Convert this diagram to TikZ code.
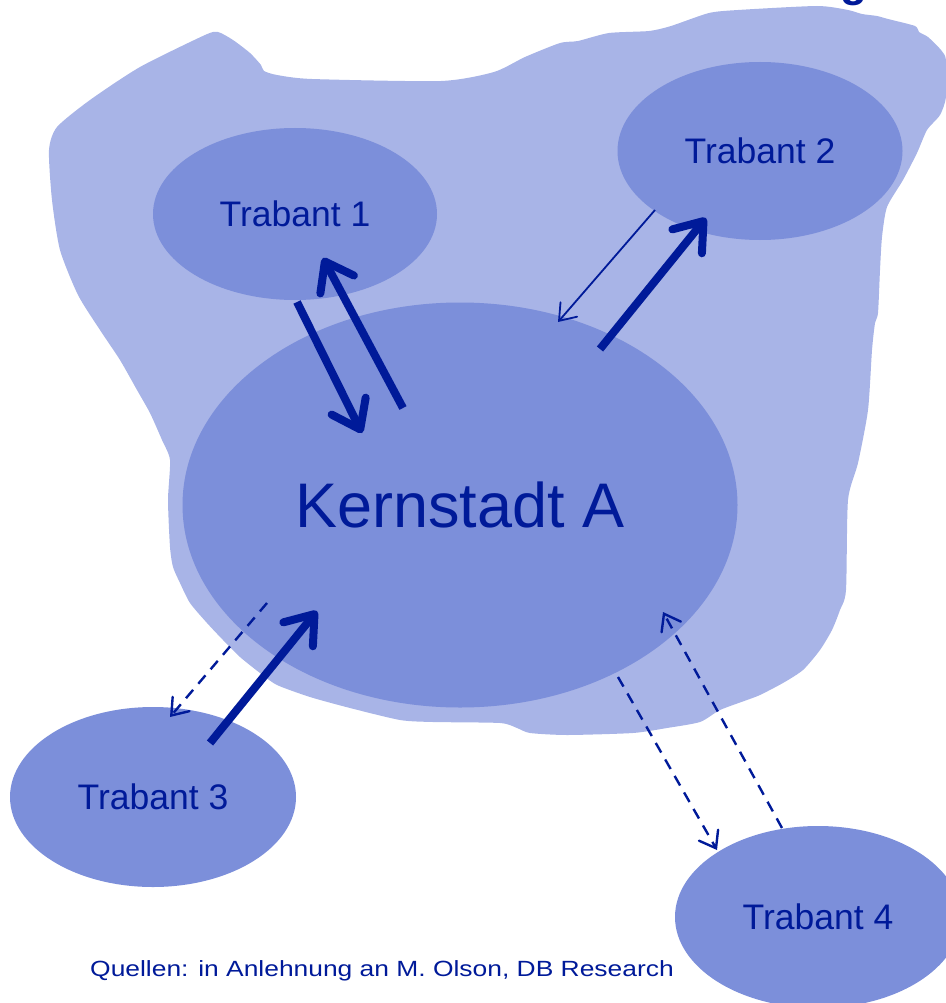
\documentclass[tikz,border=0pt]{standalone}
\usepackage{fontspec}
\usepackage{graphicx}
\setmainfont{Liberation Sans}
\usetikzlibrary{shapes.geometric,arrows.meta}
\definecolor{blobc}{RGB}{168,180,231}
\definecolor{ellc}{RGB}{124,143,218}
\definecolor{navy}{RGB}{0,26,153}
\tikzset{
  ell/.style={ellipse, fill=ellc, inner sep=0pt, text=navy},
  bigarrow/.style={draw=navy, line width=8pt, -{Straight Barb[length=26pt,width=38pt,line cap=round,line join=round]}},
  thinarrow/.style={draw=navy, line width=1.8pt, -{Straight Barb[length=15pt,width=22pt,line cap=round]}},
  dasharrow/.style={draw=navy, line width=2.4pt, dash pattern=on 11pt off 8pt, -{Straight Barb[length=15pt,width=22pt,line cap=round]}},
  trab/.style={font=\fontsize{35.5}{40}\selectfont}
}
\begin{document}
\begin{tikzpicture}[x=1pt,y=-1pt]
\useasboundingbox (0,0) rectangle (945,1003);
% partial title letter (cut off at the top edge, as in the reference)
\node[text=navy, anchor=base, font=\bfseries\fontsize{44}{50}\selectfont] (title) at (854,-3) {g};
% region blob
\fill[blobc] plot[smooth cycle, tension=0.4] coordinates {
(49,150) (57,127) (90,100) (140,67) (205,35) (218,32) (233,40) (250,53) (261,65) (264,71) (277,75) (312,79)
(441,81) (494,72) (525,57) (560,43) (578,41) (609,33) (649,31) (671,26) (709,13) (738,10) (817,6)
(848,10) (862,14) (877,16) (888,19) (915,26) (919,32) (928,37) (941,50) (946,60)
(946,97) (940,115) (927,130) (917,153) (903,180) (887,207) (882,237) (880,270) (878,313) (875,323)
(872,350) (868,410) (858,463) (848,500) (846,590) (840,610) (832,630) (820,650) (803,670) (783,683)
(760,695) (747,700) (720,710) (700,722) (667,728) (633,733) (567,735) (530,733) (517,728) (500,723)
(433,722) (400,720) (350,708) (310,697) (277,685) (260,673) (240,657) (223,640) (207,623) (190,603)
(180,583) (173,567) (170,547) (168,500) (170,460) (162,440) (150,413) (137,390) (120,360) (100,330)
(78,295) (60,250) (52,200)};
% ellipses
\node[ell, trab, minimum width=284pt, minimum height=172pt] (t1) at (295,214) {Trabant 1};
\node[ell, trab, minimum width=285pt, minimum height=178pt] (t2) at (760,151) {Trabant 2};
\node[ell, minimum width=555pt, minimum height=405pt, font=\fontsize{63}{70}\selectfont] (k) at (460,505) {Kernstadt A};
\node[ell, trab, minimum width=286pt, minimum height=180pt] (t3) at (153,797) {Trabant 3};
\node[ell, trab, minimum width=286pt, minimum height=182pt] (t4) at (818,917) {Trabant 4};
% arrow end points
\coordinate (a1s) at (297,302); \coordinate (a1e) at (362,433);
\coordinate (a2s) at (403,408); \coordinate (a2e) at (323,258);
\coordinate (a3s) at (655,210); \coordinate (a3e) at (558,322);
\coordinate (a4s) at (600,349); \coordinate (a4e) at (706,218);
\coordinate (a5s) at (267,603); \coordinate (a5e) at (170,717);
\coordinate (a6s) at (210,743); \coordinate (a6e) at (317,611);
\coordinate (a7s) at (618,677); \coordinate (a7e) at (717,850);
\coordinate (a8s) at (782,828); \coordinate (a8e) at (663,612);
% arrows
\draw[bigarrow] (a1s) -- (a1e);
\draw[bigarrow] (a2s) -- (a2e);
\draw[thinarrow] (a3s) -- (a3e);
\draw[bigarrow] (a4s) -- (a4e);
\draw[dasharrow] (a5s) -- (a5e);
\draw[bigarrow] (a6s) -- (a6e);
\draw[dasharrow] (a7s) -- (a7e);
\draw[dasharrow] (a8s) -- (a8e);
% source
\node[text=navy] (src) at (382,971) {\scalebox{1.2}[1]{\fontsize{22}{26}\selectfont Quellen: in Anlehnung an M. Olson, DB Research}};
\end{tikzpicture}
\end{document}
